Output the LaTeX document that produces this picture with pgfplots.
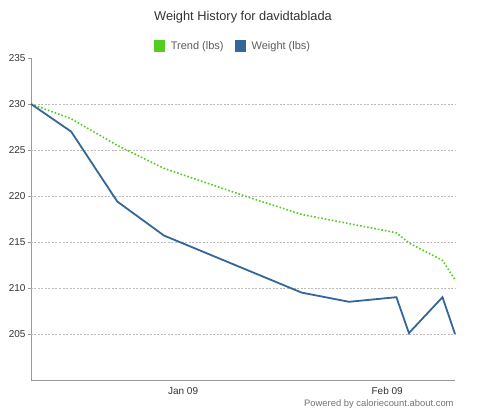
\documentclass[border=0pt]{standalone}
\usepackage{fontspec}
\setmainfont{Liberation Sans}
\usepackage{pgfplots}
\pgfplotsset{compat=1.18}
\definecolor{trendgreen}{HTML}{55CC22}
\definecolor{weightblue}{HTML}{336699}
\definecolor{axisgrey}{HTML}{999999}
\definecolor{gridgrey}{HTML}{BBBBBB}
\definecolor{txt}{HTML}{333333}
\begin{document}
\begin{tikzpicture}[x=1pt,y=1pt]
\useasboundingbox (-31,-39) rectangle (470,380);
\begin{axis}[
  at={(0,0)}, anchor=south west,
  scale only axis, width=424pt, height=322pt,
  xmin=-23.1, xmax=41.3, ymin=200, ymax=235,
  axis x line*=bottom, axis y line*=left,
  axis line style={axisgrey, line width=0.7pt},
  xtick={0,31}, xticklabels={Jan 09,Feb 09},
  xtick style={draw=none},
  ytick={205,210,...,235},
  ytick style={axisgrey, line width=0.7pt},
  tick align=outside, major tick length=3pt,
  extra y ticks={205,210,...,230}, extra y tick labels={},
  extra y tick style={grid=major, major tick length=0pt},
  grid style={gridgrey, dash pattern=on 2pt off 1.5pt, line width=0.5pt},
  /pgf/number format/assume math mode=true,
  ticklabel style={font=\fontsize{10}{12}\selectfont, text=txt},
  yticklabel style={xshift=1pt},
  xticklabel style={yshift=-1pt},
  title={Weight History for davidtablada},
  title style={font=\fontsize{12.8}{15}\selectfont, text=txt, at={(0.5,1)}, anchor=south, yshift=25pt},
  legend columns=2,
  legend style={draw=none, fill=none, at={(0.5,1)}, anchor=south, yshift=3pt, xshift=-10pt,
    font=\fontsize{11}{13}\selectfont, text=txt!80,
    /tikz/every odd column/.append style={column sep=4pt},
    /tikz/every even column/.append style={column sep=9pt}},
  legend image code/.code={\fill[#1] (0pt,-6pt) rectangle (11pt,6pt);},
  clip=false,
]
\addplot[trendgreen, dotted, line width=1.6pt, fill=none, forget plot] coordinates {
(-23.1,230.0) (-17.0,228.4) (-10.0,225.5) (-2.9,223.0) (10.2,219.8)
(18.0,218.0) (25.2,217.0) (32.4,216.0) (34.3,214.9) (39.4,213.0) (41.3,210.9)};
\addlegendimage{fill=trendgreen, draw=none}
\addlegendentry{Trend (lbs)}
\addplot[weightblue, line width=1.8pt, forget plot] coordinates {
(-23.1,230.0) (-17.0,227.0) (-10.0,219.4) (-2.9,215.7) (18.0,209.5)
(25.2,208.5) (32.4,209.0) (34.3,205.1) (39.4,209.0) (41.3,205.0)};
\addlegendimage{fill=weightblue, draw=none}
\addlegendentry{Weight (lbs)}
\node[anchor=north east, font=\fontsize{9.4}{11}\selectfont, text=black!55] at (rel axis cs:1.005,0) [yshift=-16pt] {Powered by caloriecount.about.com};
\end{axis}
\end{tikzpicture}
\end{document}
